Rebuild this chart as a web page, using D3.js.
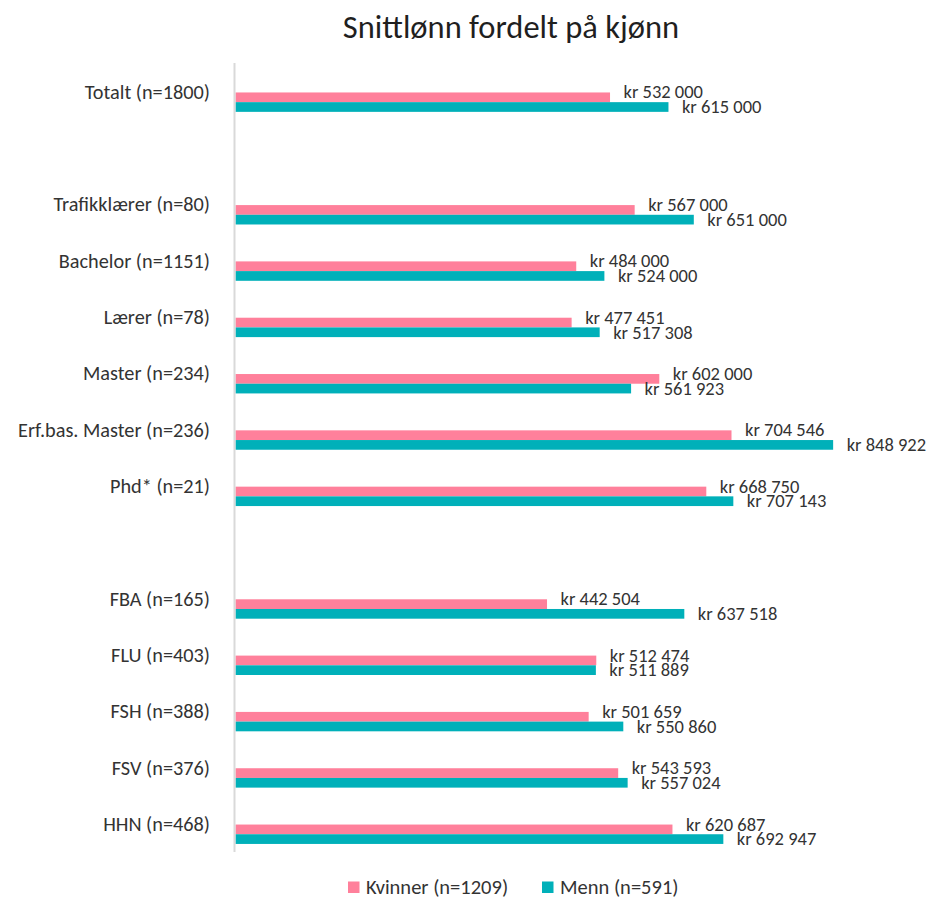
<!DOCTYPE html>
<html>
<head>
<meta charset="utf-8">
<script src="https://cdnjs.cloudflare.com/ajax/libs/d3/7.8.5/d3.min.js"></script>
<style>
	html, body { margin: 0; padding: 0; background: #fff; }
	svg { display: block; font-family: Calibri, Carlito, "Open Sans", sans-serif; }
</style>
</head>
<body>
<div id="chart"></div>
<script>

var categories = [
	"Totalt (n=1800)", "",
	"Trafikklærer (n=80)", "Bachelor (n=1151)", "Lærer (n=78)", "Master (n=234)",
	"Erf.bas. Master (n=236)", "Phd* (n=21)", "",
	"FBA (n=165)", "FLU (n=403)", "FSH (n=388)", "FSV (n=376)", "HHN (n=468)"
];
var kvinner = [532000, null, 567000, 484000, 477451, 602000, 704546, 668750, null, 442504, 512474, 501659, 543593, 620687];
var menn = [615000, null, 651000, 524000, 517308, 561923, 848922, 707143, null, 637518, 511889, 550860, 557024, 692947];
var series_names = ["Kvinner (n=1209)", "Menn (n=591)"];
var series_colors = ["#ff809b", "#00b0b9"];
var chart_title = "Snittlønn fordelt på kjønn";

var width = 932,
	height = 898;

var svg = d3.select("#chart")
	.append("svg")
	.attr("width", width)
	.attr("height", height);

var rows = categories.map(function(c, i) {
	return { id: i, label: c, k: kvinner[i], m: menn[i] };
});

var x = d3.scaleLinear()
	.domain([0, 850000])
	.range([235.5, 833.9]);

var y = d3.scaleBand()
	.domain(rows.map(function(d) { return d.id; }))
	.range([64.3, 852.7]);

var bw = y.bandwidth(),
	barH = 9.7;

function center(d) { return y(d.id) + bw / 2; }

var fmt = function(v) {
	return "kr\u00a0" + d3.format(",")(v).replace(/,/g, "\u00a0");
};

// title
svg.append("text")
	.attr("x", 511)
	.attr("y", 38)
	.attr("text-anchor", "middle")
	.attr("font-size", "32.5px")
	.attr("fill", "#1f1f1f")
	.text(chart_title);

// category labels
svg.selectAll(".cat")
	.data(rows.filter(function(d) { return d.label; }))
	.enter()
	.append("text")
	.attr("class", "cat")
	.attr("x", 210)
	.attr("y", function(d) { return center(d) + 6.3; })
	.attr("text-anchor", "end")
	.attr("font-size", "20.3px")
	.attr("fill", "#333")
	.text(function(d) { return d.label; });

var filled = rows.filter(function(d) { return d.k != null; });

// bars
var groups = svg.selectAll(".row")
	.data(filled)
	.enter()
	.append("g")
	.attr("class", "row");

groups.append("rect")
	.attr("x", x(0))
	.attr("y", function(d) { return center(d); })
	.attr("width", function(d) { return x(d.k) - x(0); })
	.attr("height", barH)
	.attr("fill", series_colors[0]);

groups.append("rect")
	.attr("x", x(0))
	.attr("y", function(d) { return center(d) + barH; })
	.attr("width", function(d) { return x(d.m) - x(0); })
	.attr("height", barH)
	.attr("fill", series_colors[1]);

// value labels
groups.append("text")
	.attr("x", function(d) { return x(d.k) + 13.5; })
	.attr("y", function(d) { return center(d) + 6; })
	.attr("font-size", "18.5px")
	.attr("fill", "#333")
	.text(function(d) { return fmt(d.k); });

groups.append("text")
	.attr("x", function(d) { return x(d.m) + 13.5; })
	.attr("y", function(d) { return center(d) + 20.8; })
	.attr("font-size", "18.5px")
	.attr("fill", "#333")
	.text(function(d) { return fmt(d.m); });

// axis line
svg.append("line")
	.attr("x1", 234.5)
	.attr("x2", 234.5)
	.attr("y1", 63)
	.attr("y2", 852)
	.attr("stroke", "#d9d9d9")
	.attr("stroke-width", 2);

// legend
var legend_x = [348, 542];
var legend = svg.selectAll(".legend")
	.data(series_names)
	.enter()
	.append("g")
	.attr("class", "legend")
	.attr("transform", function(d, i) { return "translate(" + legend_x[i] + ",881.5)"; });

legend.append("rect")
	.attr("width", 11.5)
	.attr("height", 11.5)
	.attr("fill", function(d, i) { return series_colors[i]; });

legend.append("text")
	.attr("x", 18)
	.attr("y", 12)
	.attr("font-size", "20.5px")
	.attr("fill", "#333")
	.text(function(d) { return d; });

</script>
</body>
</html>
